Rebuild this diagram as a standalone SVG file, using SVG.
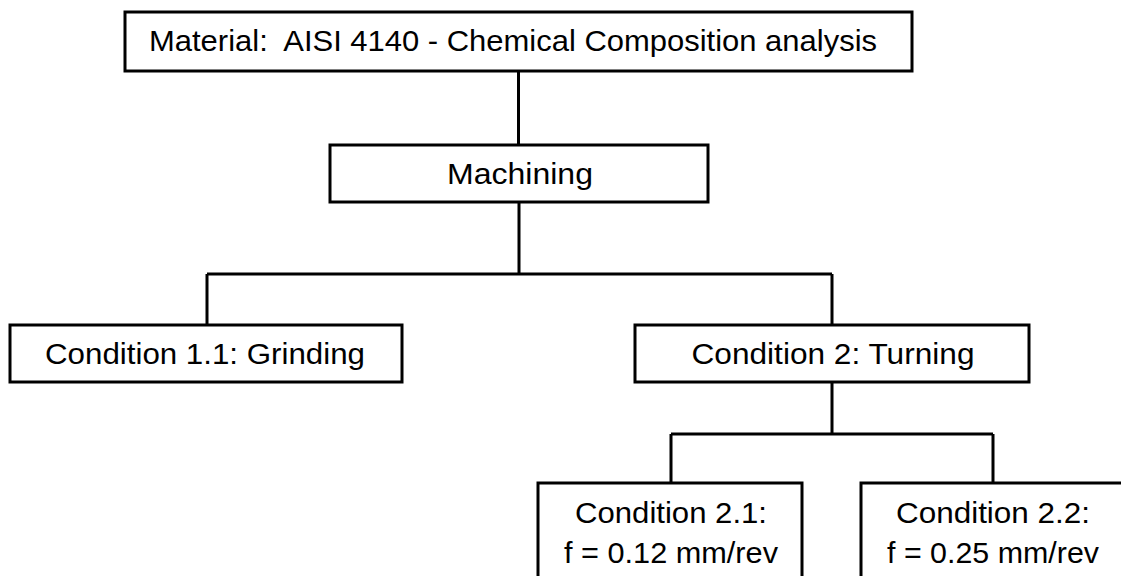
<svg xmlns="http://www.w3.org/2000/svg" width="1121" height="576" viewBox="0 0 1121 576">
<style>
.box{fill:#fff;stroke:#000;stroke-width:3}
.lbl{font-family:"Liberation Sans",Arial,sans-serif;font-size:30px;fill:#000;white-space:pre}
.c{text-anchor:middle}
.con{fill:none;stroke:#000;stroke-width:3}
</style>
<rect width="1121" height="576" fill="#fff"/>
<g id="connectors">
<path class="con" d="M518.5 71 V145"/>
<path class="con" d="M519 202 V274 M207 274 H832 M207 274 V325 M832 274 V325"/>
<path class="con" d="M832 382 V434 M671 434 H993 M671 434 V483 M993 434 V483"/>
</g>
<g id="n-material">
<rect class="box" x="125" y="12" width="787" height="59"/>
<text class="lbl" x="149" y="51" xml:space="preserve" textLength="728" lengthAdjust="spacingAndGlyphs">Material:  AISI 4140 - Chemical Composition analysis</text>
</g>
<g id="n-machining">
<rect class="box" x="330" y="145" width="378" height="57"/>
<text class="lbl c" x="520" y="184" textLength="146" lengthAdjust="spacingAndGlyphs">Machining</text>
</g>
<g id="n-grinding">
<rect class="box" x="10" y="325" width="392" height="57"/>
<text class="lbl c" x="205" y="364" textLength="320" lengthAdjust="spacingAndGlyphs">Condition 1.1: Grinding</text>
</g>
<g id="n-turning">
<rect class="box" x="635" y="325" width="394" height="57"/>
<text class="lbl c" x="833" y="364" textLength="283" lengthAdjust="spacingAndGlyphs">Condition 2: Turning</text>
</g>
<g id="n-c21">
<rect class="box" x="538" y="483" width="264" height="120"/>
<text class="lbl c" x="671" y="523" textLength="192" lengthAdjust="spacingAndGlyphs">Condition 2.1:</text>
<text class="lbl c" x="671" y="563" textLength="214" lengthAdjust="spacingAndGlyphs">f = 0.12 mm/rev</text>
</g>
<g id="n-c22">
<rect class="box" x="861" y="483" width="270" height="120"/>
<text class="lbl c" x="993" y="523" textLength="194" lengthAdjust="spacingAndGlyphs">Condition 2.2:</text>
<text class="lbl c" x="993" y="563" textLength="212" lengthAdjust="spacingAndGlyphs">f = 0.25 mm/rev</text>
</g>
</svg>
